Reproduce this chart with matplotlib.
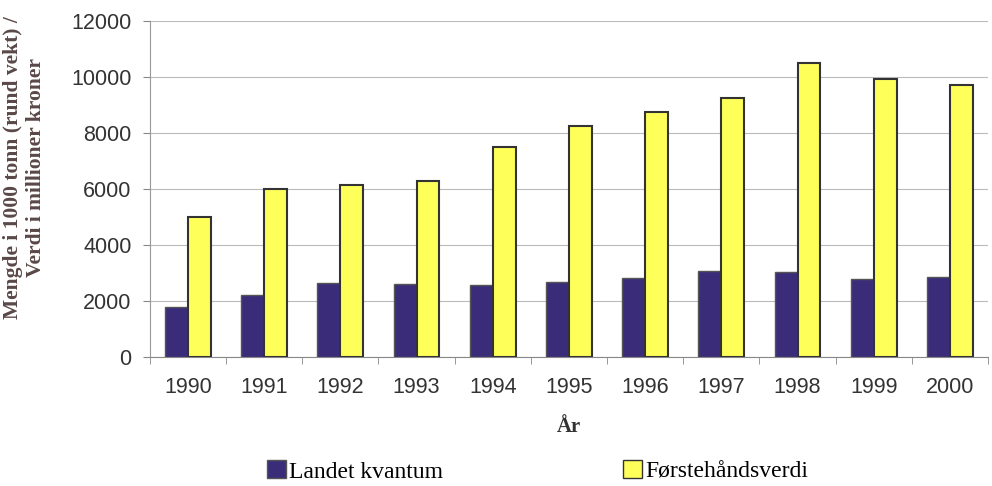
import numpy as np
import matplotlib.pyplot as plt
from matplotlib.patches import Patch

# data
years = ['1990', '1991', '1992', '1993', '1994', '1995', '1996', '1997', '1998', '1999', '2000']
landet_kvantum = [1790, 2210, 2640, 2600, 2570, 2700, 2820, 3070, 3040, 2790, 2860]
forstehandsverdi = [5000, 6000, 6140, 6290, 7500, 8250, 8750, 9250, 10500, 9930, 9710]

dark = '#3b2c7a'
yellow = '#ffff5a'

fig = plt.figure(figsize=(9.92, 4.86), dpi=100)
ax = fig.add_axes([0.151, 0.265, 0.845, 0.692])

x = np.arange(len(years))
w = 0.3
ax.bar(x - w/2, landet_kvantum, w, color=dark, edgecolor='#555555', linewidth=1.0, zorder=3)
ax.bar(x + w/2, forstehandsverdi, w, color=yellow, edgecolor='#333333', linewidth=1.5, zorder=3)

ax.set_xlim(-0.5, len(years) - 0.5)
ax.set_ylim(0, 12000)
ax.set_yticks(range(0, 12001, 2000))
ax.yaxis.grid(True, color='#bbbbbb', linewidth=0.8, zorder=0)

# ticks between categories, labels centred
ax.set_xticks(x)
ax.set_xticklabels(years)
ax.set_xticks(np.arange(-0.5, len(years)), minor=True)
ax.tick_params(axis='x', which='major', length=0, pad=14)
ax.tick_params(axis='x', which='minor', length=5, color='#888888')
ax.tick_params(axis='y', length=5, color='#888888', pad=8)
for lab in ax.get_xticklabels() + ax.get_yticklabels():
    lab.set_fontfamily('Liberation Sans')
    lab.set_fontsize(15.5)
    lab.set_color('#333333')

for s in ['top', 'right']:
    ax.spines[s].set_visible(False)
ax.spines['left'].set_color('#999999')
ax.spines['bottom'].set_color('#888888')

ax.set_xlabel('År', fontfamily='Liberation Serif', fontweight='bold', fontsize=15,
              color='#333333', labelpad=14)
ax.set_ylabel('Mengde i 1000 tonn (rund vekt) /\nVerdi i millioner kroner',
              fontfamily='Liberation Serif', fontweight='bold', fontsize=15.5,
              color='#5a4848')
ax.yaxis.set_label_coords(-0.124, 0.565)

handles = [Patch(facecolor=dark, edgecolor='#555555'),
           Patch(facecolor=yellow, edgecolor='#333333')]
fig.legend(handles, ['Landet kvantum', 'Førstehåndsverdi'], loc='center',
           bbox_to_anchor=(0.542, 0.03), ncol=2, frameon=False,
           prop={'family': 'Liberation Serif', 'size': 17},
           handlelength=0.8, handleheight=0.8, handletextpad=0.15, columnspacing=7.6,
           borderpad=0.1)

fig.savefig('out.png', dpi=100)
